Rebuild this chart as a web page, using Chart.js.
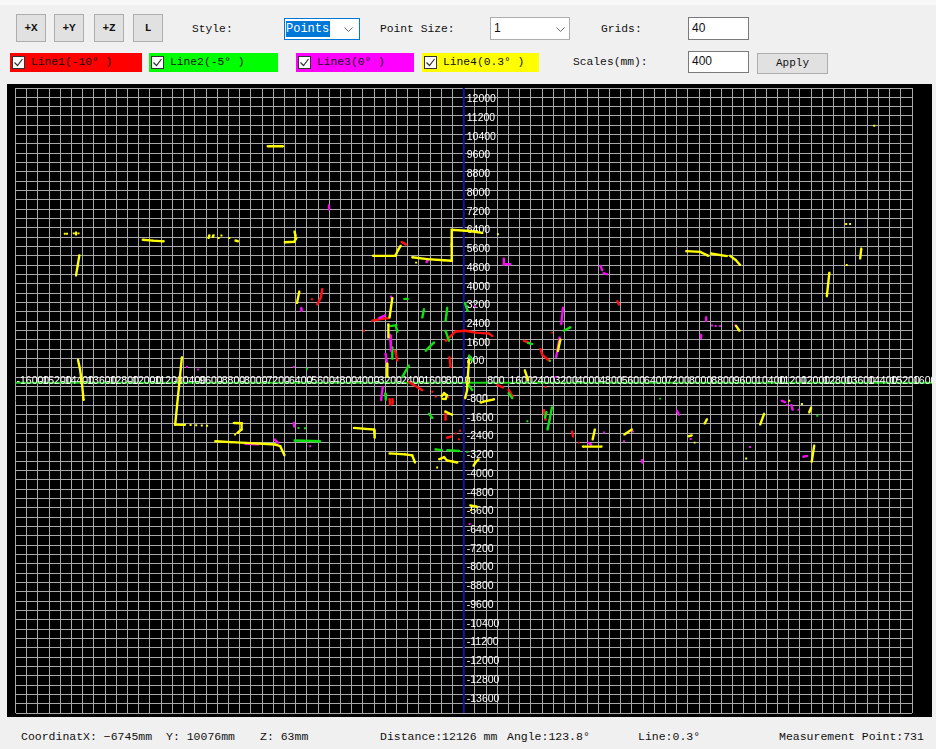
<!DOCTYPE html>
<html>
<head>
<meta charset="utf-8">
<title>Scan Viewer</title>
<script src="https://cdn.jsdelivr.net/npm/chart.js@4.4.1/dist/chart.umd.min.js"></script>
<style>
  html, body { margin: 0; padding: 0; }
  body { width: 936px; height: 749px; background: #f0f0f0; position: relative; overflow: hidden;
         font-family: "Liberation Mono", "DejaVu Sans Mono", monospace; font-size: 11.3px; color: #111; }
  .abs { position: absolute; white-space: nowrap; }
  .btn { position: absolute; background: #e1e1e1; border: 1px solid #adadad; box-sizing: border-box;
         text-align: center; font-weight: bold; font-size: 11px; }
  .lbl { position: absolute; white-space: nowrap; line-height: 14px; }
  .box { position: absolute; background: #fff; border: 1px solid #7a7a7a; box-sizing: border-box;
         font-family: "Liberation Sans", Arial, sans-serif; font-size: 12px; padding-left: 3px; }
  .legend { position: absolute; height: 19px; top: 53px; box-sizing: border-box; }
  .legend .cb { position: absolute; left: 2px; top: 3px; width: 13px; height: 13px; background: #fff;
                border: 1px solid #333; box-sizing: border-box; }
  .legend .cb svg { position: absolute; left: 0; top: 0; }
  .legend .tx { position: absolute; left: 21px; top: 2px; line-height: 15px; }
  .chev { position: absolute; }
  #plot { position: absolute; left: 7px; top: 84px; }
  .status { position: absolute; top: 729px; line-height: 16px; white-space: nowrap; font-size: 11.5px; }
</style>
</head>
<body>
<div class="abs" style="left:0;top:0;width:936px;height:5px;background:#f8f8f8"></div>

<!-- toolbar, first row -->
<div class="btn" style="left:16px;top:14px;width:30px;height:28px;line-height:26px">+X</div>
<div class="btn" style="left:54px;top:14px;width:30px;height:28px;line-height:26px">+Y</div>
<div class="btn" style="left:94px;top:14px;width:30px;height:28px;line-height:26px">+Z</div>
<div class="btn" style="left:133px;top:14px;width:30px;height:28px;line-height:26px">L</div>
<div class="lbl" style="left:192px;top:22px">Style:</div>
<div class="abs" style="left:284px;top:18px;width:76px;height:22px;border:1px solid #0078d7;box-sizing:border-box;background:#fff"></div>
<div class="abs" style="left:286px;top:21px;width:44px;height:16px;background:#0078d7;color:#fff;line-height:16px;font-size:12px">Points</div>
<svg class="chev" style="left:344px;top:27px" width="10" height="6"><polyline points="0.5,0.5 4.5,4.5 8.5,0.5" fill="none" stroke="#666" stroke-width="1"/></svg>
<div class="lbl" style="left:380px;top:22px">Point Size:</div>
<div class="box" style="left:490px;top:17px;width:80px;height:23px;line-height:20px;border-color:#adadad">1</div>
<svg class="chev" style="left:556px;top:27px" width="10" height="6"><polyline points="0.5,0.5 4.5,4.5 8.5,0.5" fill="none" stroke="#666" stroke-width="1"/></svg>
<div class="lbl" style="left:601px;top:22px">Grids:</div>
<div class="box" style="left:688px;top:17px;width:61px;height:23px;line-height:20px">40</div>

<!-- toolbar, second row: series switches -->
<div class="legend" style="left:10px;width:132px;background:#ff0000">
  <span class="cb"><svg width="11" height="11"><polyline points="1.5,5.5 4.5,8.5 9.5,2" fill="none" stroke="#333" stroke-width="1.2"/></svg></span>
  <span class="tx">Line1(-10° )</span>
</div>
<div class="legend" style="left:149px;width:129px;background:#00ff00">
  <span class="cb"><svg width="11" height="11"><polyline points="1.5,5.5 4.5,8.5 9.5,2" fill="none" stroke="#333" stroke-width="1.2"/></svg></span>
  <span class="tx">Line2(-5° )</span>
</div>
<div class="legend" style="left:296px;width:118px;background:#ff00ff">
  <span class="cb"><svg width="11" height="11"><polyline points="1.5,5.5 4.5,8.5 9.5,2" fill="none" stroke="#333" stroke-width="1.2"/></svg></span>
  <span class="tx">Line3(0° )</span>
</div>
<div class="legend" style="left:422px;width:117px;background:#ffff00">
  <span class="cb"><svg width="11" height="11"><polyline points="1.5,5.5 4.5,8.5 9.5,2" fill="none" stroke="#333" stroke-width="1.2"/></svg></span>
  <span class="tx">Line4(0.3° )</span>
</div>
<div class="lbl" style="left:573px;top:55px">Scales(mm):</div>
<div class="box" style="left:688px;top:51px;width:61px;height:22px;line-height:19px">400</div>
<div class="btn" style="left:757px;top:53px;width:71px;height:21px;line-height:19px;font-weight:normal">Apply</div>

<canvas id="plot" width="925" height="633"></canvas>

<!-- status bar -->
<div class="status" style="left:21px">CoordinatX: −6745mm</div>
<div class="status" style="left:166px">Y: 10076mm</div>
<div class="status" style="left:260px">Z: 63mm</div>
<div class="status" style="left:380px">Distance:12126 mm</div>
<div class="status" style="left:507px">Angle:123.8°</div>
<div class="status" style="left:638px">Line:0.3°</div>
<div class="status" style="left:779px">Measurement Point:731</div>

<script>
// Axis tick labels (mm)
const xTickValues = [-16000, -15200, -14400, -13600, -12800, -12000, -11200, -10400, -9600, -8800, -8000,
  -7200, -6400, -5600, -4800, -4000, -3200, -2400, -1600, -800, 0, 800, 1600, 2400, 3200, 4000, 4800,
  5600, 6400, 7200, 8000, 8800, 9600, 10400, 11200, 12000, 12800, 13600, 14400, 15200, 16000];
const yTickValues = [12000, 11200, 10400, 9600, 8800, 8000, 7200, 6400, 5600, 4800, 4000, 3200, 2400,
  1600, 800, -800, -1600, -2400, -3200, -4000, -4800, -5600, -6400, -7200, -8000, -8800, -9600,
  -10400, -11200, -12000, -12800, -13600];

// Visible window (mm)
const xRange = [-16000, 16000];
const yRange = [-14110, 12590];
const gridStep = 400;

// Scan points per line, grouped into connected runs: [x mm, y mm]
const line1Segments = [ // -10°
  [[-5420, 3570]],
  [[-5050, 4000], [-5100, 3650], [-5230, 3340]],
  [[5480, 3480], [5540, 3340]],
  [[-3270, 2650], [-2900, 2730], [-2670, 2760]],
  [[-2450, 1370], [-2370, 950]],
  [[-3560, 2220]],
  [[-2220, 6010], [-2050, 5900]],
  [[-650, 1790], [-290, 2190], [60, 2220], [420, 2140], [900, 2100], [1020, 2000]],
  [[-510, 1090], [-470, 670]],
  [[-1960, 30], [-1480, -320]],
  [[-1120, -390]], [[-1000, -600]],
  [[-560, -620]],
  [[-650, -1230], [-650, -1580]],
  [[-600, -2350], [-450, -2300]], [[-290, -2170]], [[-170, -2420]], [[-130, -2050]],
  [[-990, -2850]],
  [[-2650, -700], [-2620, -950]],
  [[-2550, -700], [-2540, -900]],
  [[2740, 1440], [2800, 1200], [3040, 950]],
  [[2150, 1790], [2300, 1720]],
  [[3160, 2140]],
  [[1200, -100], [1400, -200]],
  [[1600, -300], [1750, -600]],
  [[2920, -180]],
  [[2860, -1170], [2920, -1580]],
  [[3870, -2080], [3900, -2300]], [[4110, -2560]]
];

const line2Segments = [ // -5°
  [[-2120, 3580], [-2000, 3580]],
  [[-1420, 3140], [-1480, 2780]],
  [[-590, 3200], [-620, 2900], [-650, 2640]],
  [[40, 3410], [140, 3060]],
  [[-650, 2220], [-530, 1790]],
  [[-1360, 1370], [-1060, 1720]],
  [[190, 1160], [300, 950]],
  [[-2190, 250], [-1960, 740]],
  [[-1240, -1330], [-1120, -1510]],
  [[-1010, -2850], [-770, -2880]],
  [[-590, -2880], [-170, -2920]],
  [[125, -2950]],
  [[-2620, 2420], [-2400, 2460]],
  [[-2420, 2400], [-2370, 2180]],
  [[-2550, 1510], [-2550, 1020]],
  [[-2800, -450], [-2780, -730]],
  [[190, -110], [300, -320]],
  [[3570, 2220], [3810, 2370]],
  [[2300, 1700], [2440, 1650]],
  [[3080, 940]],
  [[1600, -450], [1730, -660]],
  [[3150, -1050], [3060, -1600], [2990, -2000]],
  [[2950, -1250], [2900, -1500]],
  [[2270, -1650]],
  [[-6040, -2470], [-5130, -2500]],
  [[-5900, -1930]], [[-5670, -1950]],
  [[7010, -680]],
  [[-5600, 600]],
  [[12620, -1410]]
];

const line3Segments = [ // 0°
  [[-4810, 7580], [-4810, 7400]],
  [[-1330, 5150], [-1280, 5260]],
  [[1430, 5310], [1430, 5060], [1670, 5060]],
  [[4880, 5000], [4940, 4800]],
  [[4990, 4680], [5120, 4630]],
  [[-5800, 3190], [-5790, 3060]],
  [[-9880, 670]], [[-9480, 560]],
  [[-6070, 670]],
  [[-2600, 3680], [-2560, 3560]],
  [[-3020, 2760], [-2800, 2880]],
  [[-2630, 2050], [-2600, 1370]],
  [[-2790, 1240], [-2720, 650]],
  [[-2890, -180], [-2950, -740]],
  [[400, 3270]],
  [[60, -600]],
  [[3540, 3200], [3480, 2500]],
  [[3420, 1930], [3300, 1100]],
  [[3270, 240]],
  [[4440, -2560], [4550, -2650]],
  [[5010, -2130]],
  [[8650, 2800], [8650, 2640]],
  [[8860, 2440]], [[8990, 2420]], [[9150, 2420]],
  [[8470, 2050], [8470, 1900]],
  [[9690, 2440]],
  [[7610, -1200], [7680, -1370]],
  [[5720, -2500]], [[6040, -2080]],
  [[8100, -2400]],
  [[6360, -3300], [6380, -3420]],
  [[11350, -770], [11470, -830]], [[11530, -950]],
  [[11690, -950], [11740, -1160]],
  [[11950, -1160]],
  [[10220, -2750]],
  [[12120, -3160], [12250, -3130]],
  [[-6070, -1710], [-6050, -1880]],
  [[-5480, -2710]],
  [[-7800, -2610], [-7330, -2630]],
  [[-6750, -2430], [-6630, -2570]],
  [[210, -6040]]
];

const line4Segments = [ // 0.3°
  [[-7000, 10100], [-6450, 10100]],
  [[-14240, 6360]], [[-14160, 6360]], [[-13920, 6380]], [[-13840, 6330], [-13840, 6420]], [[-13750, 6380]],
  [[-13720, 5450], [-13780, 5000], [-13840, 4580]],
  [[-11460, 6110], [-11100, 6070], [-10710, 6040]],
  [[-9110, 6180], [-9080, 6300]],
  [[-8960, 6220], [-8930, 6300]],
  [[-8750, 6180]], [[-8650, 6290]], [[-8370, 6180]],
  [[-8150, 6080], [-8060, 6040]],
  [[-6390, 6000], [-6050, 6020], [-5990, 6150], [-6010, 6300], [-6040, 6460]],
  [[-5870, 3900], [-5950, 3410]],
  [[-10060, 1090], [-10300, -1790], [-9950, -1800]],
  [[-9750, -1810]], [[-9550, -1820]], [[-9350, -1830]], [[-9160, -1835]],
  [[-8210, -1720], [-7930, -1730], [-7930, -2000], [-8080, -2150]], [[-8160, -2210]],
  [[-8870, -2500], [-8300, -2540], [-7600, -2580], [-6730, -2640], [-6550, -2710], [-6400, -3100]],
  [[-13570, -740], [-13630, 0], [-13700, 600], [-13770, 980]],
  [[7940, 5620], [8440, 5590], [8735, 5420]],
  [[8820, 5520], [9390, 5410]],
  [[9510, 5420], [9700, 5250], [9866, 5030]],
  [[13650, 6780]], [[13790, 6780]],
  [[14190, 5730], [14150, 5310]],
  [[13670, 5030]],
  [[13050, 4700], [12960, 3690]],
  [[14650, 10980]],
  [[9720, 2430], [9840, 2220]],
  [[8680, -1560], [8600, -1740]],
  [[5730, -2210], [6000, -2000]],
  [[8020, -2290], [8140, -2250]], [[8240, -2560]],
  [[10580, -1790], [10720, -1330]],
  [[11620, -770]], [[12070, -910]],
  [[12330, -1270], [12400, -1060]],
  [[10080, -3240]],
  [[12510, -2680], [12420, -3380]],
  [[-1840, 5360], [-1300, 5280], [-700, 5230], [-440, 5210], [-440, 5900], [-420, 6530], [200, 6480], [660, 6400]],
  [[1220, 6340]], [[-1700, 5130]],
  [[-3240, 5420], [-2440, 5420], [-2330, 5700], [-2250, 5850]],
  [[-2550, 3620], [-2650, 2780]],
  [[-2690, 2500], [-2690, 1930]],
  [[-2730, 820], [-2730, 250]],
  [[190, 980], [130, 0], [120, -320], [50, -660]],
  [[-790, -580], [-700, -450], [-600, -540], [-650, -700], [-760, -690]],
  [[600, -850], [800, -780], [1080, -710]],
  [[-660, -1230], [-420, -1370]],
  [[-3920, -1930], [-3200, -2000], [-3180, -2350]],
  [[-2650, -3020], [-2100, -3060], [-1840, -3100], [-1740, -3410]],
  [[-880, -3270], [-700, -3180], [-600, -3320], [-230, -3410]],
  [[-950, -3620]],
  [[530, -3270], [420, -3400], [350, -3550]],
  [[230, -5240], [470, -5300]], [[260, -5450]],
  [[2180, 530], [2300, 100]],
  [[3450, 1850], [3360, 1350]],
  [[4250, -2730], [4920, -2730]],
  [[4680, -2000], [4600, -2430]]
];

const seriesNames = ['Line1(-10° )', 'Line2(-5° )', 'Line3(0° )', 'Line4(0.3° )'];
const seriesColors = ['#ff1010', '#10e010', '#f010f0', '#ffff00'];

// Flatten runs into one dataset; a null point breaks the polyline between runs
function toPoints(segments) {
  const out = [];
  segments.forEach((seg, i) => {
    if (i > 0) out.push({ x: null, y: null });
    seg.forEach(p => out.push({ x: p[0], y: p[1] }));
  });
  return out;
}

const allSegments = [line1Segments, line2Segments, line3Segments, line4Segments];
const datasets = allSegments.map((segs, i) => ({
  label: seriesNames[i],
  data: toPoints(segs),
  showLine: true,
  spanGaps: false,
  borderColor: seriesColors[i],
  backgroundColor: seriesColors[i],
  borderWidth: 2.4,
  pointRadius: 1.4,
  pointStyle: 'rect',
  pointBorderWidth: 0,
  tension: 0,
  order: 3 - i
}));

// Black backdrop, origin axes and in-plot tick labels
const viewerPlugin = {
  id: 'viewer',
  beforeDraw(chart) {
    const ctx = chart.ctx;
    ctx.save();
    ctx.fillStyle = '#000';
    ctx.fillRect(0, 0, chart.width, chart.height);
    ctx.restore();
  },
  beforeDatasetsDraw(chart) {
    const { ctx, chartArea: a } = chart;
    const xs = chart.scales.x, ys = chart.scales.y;
    const x0 = xs.getPixelForValue(0), y0 = ys.getPixelForValue(0);
    ctx.save();
    ctx.lineWidth = 2;
    ctx.strokeStyle = '#16169a';
    ctx.beginPath(); ctx.moveTo(x0, a.top); ctx.lineTo(x0, a.bottom); ctx.stroke();
    ctx.strokeStyle = '#1ed21e';
    ctx.beginPath(); ctx.moveTo(a.left, y0); ctx.lineTo(a.right + 20, y0); ctx.stroke();
    ctx.fillStyle = '#ffffff';
    ctx.font = '10.5px "Liberation Sans", Arial, sans-serif';
    ctx.textAlign = 'left';
    ctx.textBaseline = 'alphabetic';
    xTickValues.forEach(v => ctx.fillText(String(v), xs.getPixelForValue(v) + 1, y0 + 1));
    yTickValues.forEach(v => ctx.fillText(String(v), x0 + 3, ys.getPixelForValue(v) + 0.5));
    ctx.restore();
  }
};

const gridColor = '#a8a8a8';
new Chart(document.getElementById('plot'), {
  type: 'scatter',
  data: { datasets },
  plugins: [viewerPlugin],
  options: {
    responsive: false,
    animation: false,
    devicePixelRatio: 1,
    layout: { padding: { left: 8.5, right: 20, top: 0, bottom: 0 } },
    plugins: { legend: { display: false }, tooltip: { enabled: false } },
    scales: {
      x: {
        type: 'linear', min: xRange[0], max: xRange[1],
        ticks: { display: false, stepSize: gridStep, includeBounds: false },
        grid: { color: gridColor, lineWidth: 1, drawTicks: false },
        border: { display: false },
        afterFit: s => { s.height = 0; }
      },
      y: {
        type: 'linear', min: yRange[0], max: yRange[1],
        ticks: { display: false, stepSize: gridStep, includeBounds: false },
        grid: { color: gridColor, lineWidth: 1, drawTicks: false },
        border: { display: false },
        afterFit: s => { s.width = 0; }
      }
    }
  }
});
</script>
</body>
</html>
